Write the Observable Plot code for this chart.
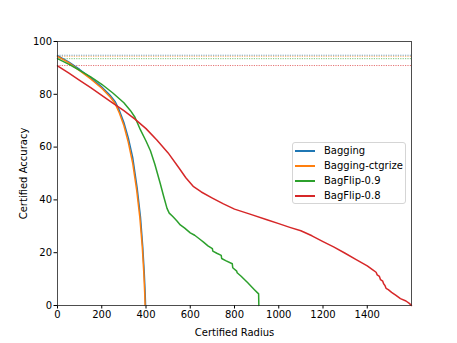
<!DOCTYPE html>
<html>
<head>
<meta charset="utf-8">
<script src="https://cdn.jsdelivr.net/npm/d3@7"></script>
<script src="https://cdn.jsdelivr.net/npm/@observablehq/plot@0.6"></script>
<style>
  html, body { margin: 0; padding: 0; background: #fff; }
  #wrap { position: relative; width: 457px; height: 343px; font-family: "DejaVu Sans", sans-serif; }
  #legend { position: absolute; left: 292px; top: 142px; width: 114px; height: 62px; box-sizing: border-box;
    border: 1px solid #d5d5d5; border-radius: 3px; background: rgba(255,255,255,0.85); padding-top: 0px; }
  .row { display: flex; align-items: center; height: 15px; font-size: 10px; color: #000; white-space: nowrap; }
  .sw { width: 20px; height: 2px; margin-left: 2px; margin-right: 9px; flex: none; }
</style>
</head>
<body>
<div id="wrap"></div>
<script>
const seriesNames = ["Bagging", "Bagging-ctgrize", "BagFlip-0.9", "BagFlip-0.8"];
const seriesColors = ["#1f77b4", "#ff7f0e", "#2ca02c", "#d62728"];
const baselineAcc = [94.8, 94.4, 93.5, 90.9];
const radiusTicks = [0, 200, 400, 600, 800, 1000, 1200, 1400];
const accTicks = [0, 20, 40, 60, 80, 100];

const bagging = [[0,94.6],[50,92.3],[100,89.4],[150,86.2],[200,82.8],[240,79.4],[260,77.3],[280,73.8],[300,69.3],[320,63.5],[340,56],[360,44.5],[375,33.5],[385,22.5],[392,12.5],[396,5],[398,0]];
const baggingCtgrize = [[0,94.4],[50,92],[100,89],[150,85.8],[200,82.3],[240,78.8],[260,76.5],[280,72.8],[300,68.2],[320,61.8],[340,53.8],[358,43.6],[372,33.5],[383,22.5],[390,12.5],[394,5],[396,0]];
const bagFlip09 = [[0,93.5],[50,91.4],[100,89.1],[150,86.6],[200,83.8],[250,80.5],[300,76.8],[330,73.8],[350,71.3],[375,66.5],[400,62.3],[420,58.6],[440,53.5],[465,46],[480,41.3],[495,36.8],[505,35],[520,33.8],[540,32],[555,30.5],[575,29.3],[600,27.5],[620,26.6],[645,25],[660,24],[680,22.6],[700,21.5],[702,20.6],[720,19.8],[740,19],[742,17.8],[760,17],[790,15.8],[792,14.3],[810,13],[812,12.4],[830,11.1],[860,8.6],[890,6],[909,4.4],[910,0]];
const bagFlip08 = [[0,90.8],[50,88.1],[100,85.3],[150,82.5],[200,79.6],[250,76.7],[300,73.8],[350,70.6],[400,67],[450,62.6],[500,57.8],[550,52],[580,48.4],[615,45],[650,43],[700,40.7],[750,38.5],[800,36.5],[870,34.6],[950,32.4],[1000,31],[1050,29.6],[1100,28.3],[1150,26.4],[1200,24.2],[1250,22.1],[1300,19.8],[1350,17.4],[1400,15],[1425,13.5],[1440,12.6],[1445,11.6],[1455,11],[1460,9.8],[1470,9.2],[1474,8.2],[1480,7.6],[1485,6.5],[1495,6],[1510,5],[1530,3.8],[1550,2.6],[1575,1.7],[1590,0.8],[1600,0]];

const allSeries = [bagging, baggingCtgrize, bagFlip09, bagFlip08];
const baselines = baselineAcc.map((v, i) => ({acc: v, color: seriesColors[i]}));

const plot = Plot.plot({
  width: 457, height: 343,
  marginTop: 41, marginRight: 46, marginBottom: 38, marginLeft: 57,
  style: {fontFamily: "DejaVu Sans, sans-serif", fontSize: "10px", color: "#000", background: "#fff"},
  x: {domain: [0, 1600], ticks: radiusTicks, tickFormat: d => String(d), label: "Certified Radius", labelAnchor: "center", labelArrow: "none", labelOffset: 30, tickSize: 3.5, tickPadding: 2},
  y: {domain: [0, 100], ticks: accTicks, tickFormat: d => String(d), label: "Certified Accuracy", labelAnchor: "center", labelArrow: "none", labelOffset: 38, tickSize: 3.5, tickPadding: 2},
  marks: [
    Plot.ruleY(baselines, {y: "acc", stroke: "color", strokeWidth: 0.8, strokeDasharray: "1.2,1.2", strokeOpacity: 0.8}),
    ...allSeries.map((s, i) => Plot.line(s, {x: d => d[0], y: d => d[1], stroke: seriesColors[i], strokeWidth: 1.5})),
    Plot.frame({stroke: "#222", strokeWidth: 0.8})
  ]
});

const wrap = document.getElementById("wrap");
wrap.appendChild(plot);
const legend = document.createElement("div");
legend.id = "legend";
seriesNames.forEach((n, i) => {
  const row = document.createElement("div");
  row.className = "row";
  const sw = document.createElement("div");
  sw.className = "sw";
  sw.style.background = seriesColors[i];
  const t = document.createElement("span");
  t.textContent = n;
  row.appendChild(sw); row.appendChild(t);
  legend.appendChild(row);
});
wrap.appendChild(legend);
</script>
</body>
</html>
